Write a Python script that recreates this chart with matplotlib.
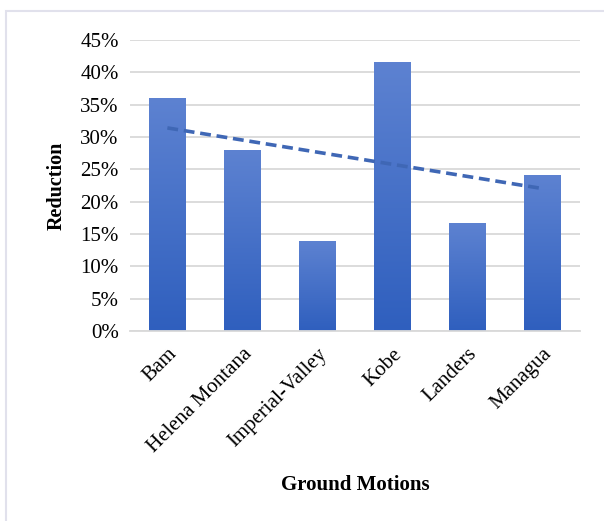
import matplotlib
matplotlib.use("Agg")
import matplotlib.pyplot as plt
import numpy as np
from matplotlib.patches import Rectangle
from matplotlib.colors import LinearSegmentedColormap
from matplotlib.ticker import FuncFormatter

# values
motions = ["Bam", "Helena Montana", "Imperial-Valley", "Kobe", "Landers", "Managua"]
reduction = [36.0, 28.0, 13.9, 41.6, 16.7, 24.1]   # percent
yticks = [0, 5, 10, 15, 20, 25, 30, 35, 40, 45]

plt.rcParams["font.family"] = ["Liberation Serif", "DejaVu Serif"]

fig = plt.figure(figsize=(6.04, 5.21), dpi=100)
ax = fig.add_axes([0.215, 0.365, 0.745, 0.558])

# light frame around the whole chart, as in the screenshot
fig.patches.append(Rectangle((6 / 604, -0.05), 1.1, 1 - 11 / 521 + 0.05,
                             transform=fig.transFigure, fill=False,
                             edgecolor="#E1E1EC", linewidth=1.5, zorder=0))

x = np.arange(len(motions))
bars = ax.bar(x, reduction, width=0.49, color="none", edgecolor="none", zorder=2)

# vertical gradient fill for each bar (lighter at top, darker at bottom)
grad = np.linspace(0, 1, 256).reshape(-1, 1)
cmap = LinearSegmentedColormap.from_list("bar", ["#2F5FBE", "#5D82D1"])
for b in bars:
    x0, w, h = b.get_x(), b.get_width(), b.get_height()
    im = ax.imshow(grad, cmap=cmap, aspect="auto", origin="lower",
                   extent=[x0, x0 + w, 0, h], zorder=2)
    im.set_clip_path(b)

# linear trendline
k, c = np.polyfit(x, reduction, 1)
ax.plot(x, k * x + c, linestyle=(0, (3, 1.6)), color="#3F67B5",
        linewidth=2.6, zorder=3)

ax.set_xlim(-0.5, len(motions) - 0.5)
ax.set_ylim(0, 45)
ax.set_yticks(yticks)
ax.yaxis.set_major_formatter(FuncFormatter(lambda v, p: f"{v:.0f}%"))
ax.grid(axis="y", color="#D9D9D9", linewidth=1.3, zorder=0)
ax.set_axisbelow(True)
for s in ["top", "right", "left"]:
    ax.spines[s].set_visible(False)
ax.spines["bottom"].set_color("#D9D9D9")
ax.spines["bottom"].set_linewidth(1.3)
ax.tick_params(length=0, labelsize=15, pad=8)

ax.set_xticks(x)
ax.set_xticklabels(motions, rotation=45, ha="right", rotation_mode="anchor")
ax.tick_params(axis="x", pad=10)

ax.set_ylabel("Reduction", fontsize=14.5, fontweight="bold", labelpad=10)
ax.set_xlabel("Ground Motions", fontsize=15, fontweight="bold", labelpad=13)

fig.savefig("out.png", dpi=100)
